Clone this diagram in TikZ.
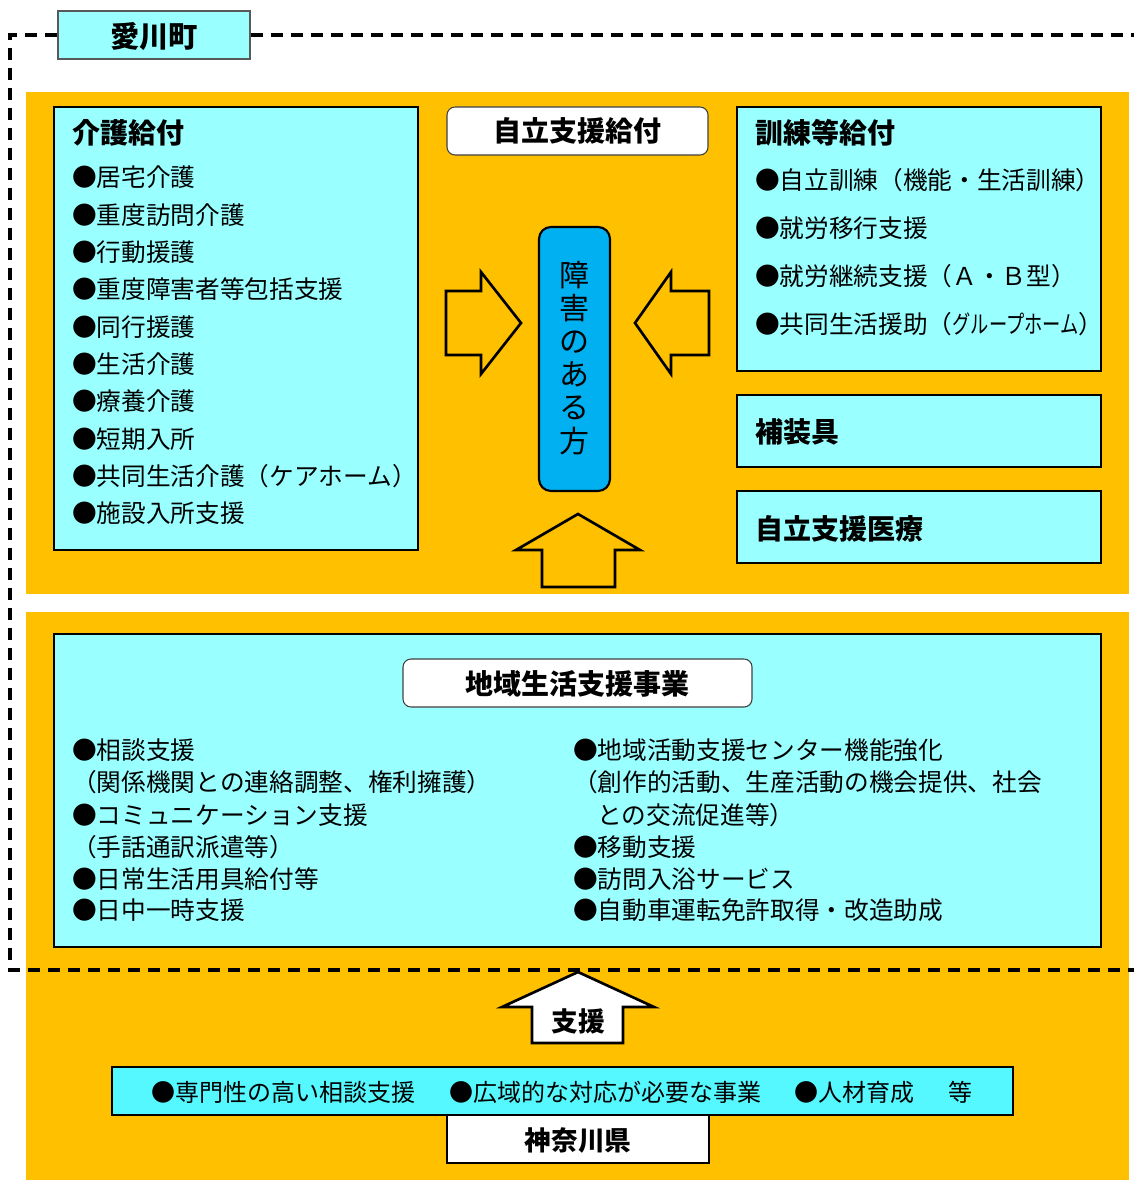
\documentclass[tikz,border=0pt]{standalone}
\usepackage{fontspec}
\usepackage{graphicx}
\newfontfamily\cjk{Noto Sans CJK JP}
\usetikzlibrary{fit}
\definecolor{lcyan}{HTML}{99FFFF}
\definecolor{orng}{HTML}{FFC000}
\definecolor{pblue}{HTML}{00B0F0}
\definecolor{bcyan}{HTML}{55F8FF}
\begin{document}
\begin{tikzpicture}[x=0.75pt,y=-0.75pt,
 panel/.style={fill=orng, draw=none, inner sep=0},
 cbox/.style={draw=black, line width=2pt, fill=lcyan, inner sep=0},
 wbox/.style={draw=black!75, line width=0.8pt, fill=white, rounded corners=6pt, inner sep=0},
 ttl/.style={font=\cjk\bfseries\fontsize{21}{21}\selectfont, inner sep=0},
 itm/.style={font=\cjk\fontsize{18.5}{18.5}\selectfont, anchor=base west, inner sep=0},
 blk/.style={draw=black, line width=2pt, line join=miter, fill=orng},
 dashborder/.style={draw=black, dash pattern=on 9pt off 6pt, line width=2.6pt}]

\useasboundingbox[fill=white] (0,0) rectangle (1134,1180);

% panels
\node[panel, fit={(26,92)(1129,594)}] (upper) {};
\node[panel, fit={(26,612)(1129,1180)}] (lower) {};

% 介護給付
\node[cbox, fit={(54,107)(418,550)}] (kaigo) {};
\node[ttl, anchor=base west] (kaigoT) at (72,144) {介護給付};
\foreach \t [count=\i] in {●居宅介護,●重度訪問介護,●行動援護,●重度障害者等包括支援,●同行援護,●生活介護,●療養介護,●短期入所,●共同生活介護（ケアホーム）,●施設入所支援}
  \node[itm] (kaigo\i) at (72,{187+37.3*(\i-1)}) {\t};

% 自立支援給付
\node[wbox, fit={(447,107)(708,155)}] (jiritsu) {};
\node[ttl] (jiritsuT) at (577,131) {自立支援給付};

% 障害のある方
\node[draw=black, line width=1.6pt, fill=pblue, rounded corners=9pt, inner sep=0, fit={(539,227)(610,491)}] (person) {};
\node[inner sep=0, align=center, font=\cjk\fontsize{22.5}{24.8}\selectfont] (personT) at (574,358) {障\\害\\の\\あ\\る\\方};

% block arrows
\draw[blk] (446,291) -- (481,291) -- (481,272) -- (521,323) -- (481,374) -- (481,355) -- (446,355) -- cycle;
\draw[blk] (709,291) -- (671,291) -- (671,272) -- (635,323) -- (671,374) -- (671,355) -- (709,355) -- cycle;
\draw[blk] (578,514) -- (640,550) -- (615,550) -- (615,587) -- (542,587) -- (542,550) -- (516,550) -- cycle;

% 訓練等給付
\node[cbox, fit={(737,107)(1101,371)}] (kunren) {};
\node[ttl, anchor=base west] (kunrenT) at (755,144) {訓練等給付};
\node[itm] (kunren1) at (755,190) {●自立訓練（機能・生活訓練）};
\node[itm] (kunren2) at (755,238) {●就労移行支援};
\node[itm] (kunren3) at (755,286) {●就労継続支援（Ａ・Ｂ型）};
\node[itm] (kunren4) at (755,334) {●共同生活援助（\scalebox{0.74}[1]{グループホーム}）};

% 補装具 / 自立支援医療
\node[cbox, fit={(737,395)(1101,467)}] (hosogu) {};
\node[ttl, anchor=west] (hosoguT) at (755,432) {補装具};
\node[cbox, fit={(737,491)(1101,563)}] (iryo) {};
\node[ttl, anchor=west] (iryoT) at (755,529) {自立支援医療};

% 地域生活支援事業
\node[cbox, fit={(54,634)(1101,947)}] (chiiki) {};
\node[wbox, fit={(403,659)(752,707)}] (chiikiH) {};
\node[ttl] (chiikiT) at (577,684) {地域生活支援事業};
\node[itm] (l1) at (72,759) {●相談支援};
\node[itm] (l2) at (72,791) {（関係機関との連絡調整、権利擁護）};
\node[itm] (l3) at (72,824) {●コミュニケーション支援};
\node[itm] (l4) at (72,856) {（手話通訳派遣等）};
\node[itm] (l5) at (72,888) {●日常生活用具給付等};
\node[itm] (l6) at (72,919) {●日中一時支援};
\node[itm] (r1) at (573,759) {●地域活動支援センター機能強化};
\node[itm] (r2) at (573,791) {（創作的活動、生産活動の機会提供、社会};
\node[itm] (r3) at (597,824) {との交流促進等）};
\node[itm] (r4) at (573,856) {●移動支援};
\node[itm] (r5) at (573,888) {●訪問入浴サービス};
\node[itm] (r6) at (573,919) {●自動車運転免許取得・改造助成};

% 愛川町 title and dashed border
\node[draw=black!65, line width=1pt, fill=lcyan, inner sep=0, fit={(58,11)(250,59)}] (town) {};
\node[font=\cjk\bfseries\fontsize{22}{22}\selectfont, inner sep=0] (townT) at (154,36) {愛川町};
\coordinate (c1) at (10,35);
\coordinate (c2) at (10,970);
\coordinate (c3) at (1134,970);
\coordinate (c4) at (1134,35);
\draw[dashborder] (town.west |- c1) -- (c1) -- (c2) -- (c3);
\draw[dashborder] (town.east |- c4) -- (c4);

% 支援 arrow
\draw[draw=black, line width=2pt, fill=white, line join=miter] (578,972) -- (654,1007) -- (623,1007) -- (623,1043) -- (532,1043) -- (532,1007) -- (502,1007) -- cycle;
\node[font=\cjk\bfseries\fontsize{20}{20}\selectfont, inner sep=0] (shien) at (578,1021) {支援};

% 神奈川県
\node[draw=black, line width=0.8pt, fill=bcyan, inner sep=0, fit={(112,1067)(1013,1115)}] (pref) {};
\node[font=\cjk\fontsize{18}{18}\selectfont, inner sep=0] (prefT) at (562,1092) {●専門性の高い相談支援\hspace{1.4em}●広域的な対応が必要な事業\hspace{1.4em}●人材育成\hspace{1.4em}等};
\node[draw=black, line width=2pt, fill=white, inner sep=0, fit={(447,1115)(709,1163)}] (kana) {};
\node[font=\cjk\bfseries\fontsize{20}{20}\selectfont, inner sep=0] (kanaT) at (578,1140) {神奈川県};
\end{tikzpicture}
\end{document}
